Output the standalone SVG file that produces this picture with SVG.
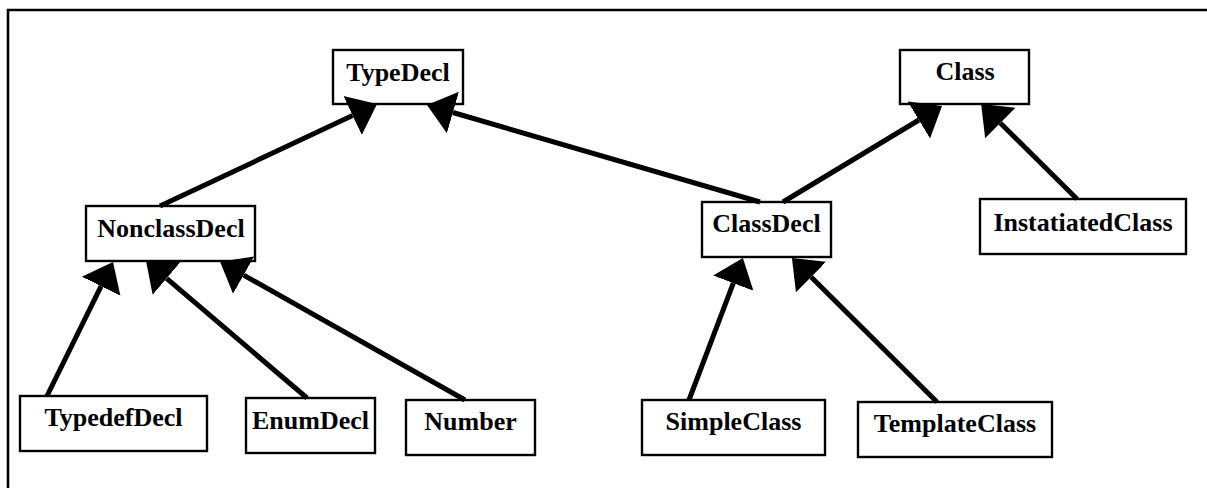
<svg xmlns="http://www.w3.org/2000/svg" width="1207" height="488" viewBox="0 0 1207 488">
<style>
.box{fill:#fff;stroke:#000;stroke-width:2.4}
.lbl{font-family:"Liberation Serif","Times New Roman",serif;font-weight:bold;font-size:26px;fill:#000;text-anchor:middle}
.edge{stroke:#000;stroke-width:5;fill:none;marker-end:url(#ah)}
.frame{fill:none;stroke:#000;stroke-width:2.6}
</style>
<defs>
<marker id="ah" markerUnits="userSpaceOnUse" viewBox="0 -22 28 44" markerWidth="28" markerHeight="44" refX="0" refY="0" orient="auto">
<path d="M0,-21.5 L27,0 L0,21.5 Z" fill="#000"/>
</marker>
</defs>
<rect width="1207" height="488" fill="#fff"/>
<path class="frame" d="M8,488 V10 H1207"/>
<g id="TypeDecl"><rect class="box" x="333" y="50" width="130" height="54"/><text class="lbl" x="398" y="81">TypeDecl</text></g>
<g id="Class"><rect class="box" x="900" y="50" width="129" height="54"/><text class="lbl" x="965" y="80">Class</text></g>
<g id="NonclassDecl"><rect class="box" x="86" y="206" width="169" height="55"/><text class="lbl" x="171" y="236.5">NonclassDecl</text></g>
<g id="ClassDecl"><rect class="box" x="702" y="202" width="129" height="55"/><text class="lbl" x="766.5" y="232">ClassDecl</text></g>
<g id="InstatiatedClass"><rect class="box" x="980" y="199" width="206" height="55"/><text class="lbl" x="1083" y="231">InstatiatedClass</text></g>
<g id="TypedefDecl"><rect class="box" x="20" y="396" width="187" height="55"/><text class="lbl" x="113.5" y="425.5">TypedefDecl</text></g>
<g id="EnumDecl"><rect class="box" x="246" y="398" width="129" height="55"/><text class="lbl" x="310.5" y="428.5">EnumDecl</text></g>
<g id="Number"><rect class="box" x="406" y="400" width="129" height="55"/><text class="lbl" x="470.5" y="430">Number</text></g>
<g id="SimpleClass"><rect class="box" x="642" y="400" width="183" height="55"/><text class="lbl" x="733.5" y="430">SimpleClass</text></g>
<g id="TemplateClass"><rect class="box" x="858" y="402" width="194" height="55"/><text class="lbl" x="955" y="432">TemplateClass</text></g>
<g id="connectors">
<line class="edge" x1="160" y1="206" x2="352.6" y2="115.5"/>
<line class="edge" x1="760" y1="202" x2="452.9" y2="112.5"/>
<line class="edge" x1="783" y1="202" x2="918.9" y2="120"/>
<line class="edge" x1="1077" y1="199" x2="1000.3" y2="122.9"/>
<line class="edge" x1="689" y1="400" x2="733.3" y2="283.2"/>
<line class="edge" x1="937" y1="402" x2="811.1" y2="277"/>
<line class="edge" x1="47" y1="396" x2="101.1" y2="286.2"/>
<line class="edge" x1="307" y1="398" x2="166.6" y2="278.4"/>
<line class="edge" x1="465" y1="400" x2="243.6" y2="275.1"/>
</g>
</svg>
